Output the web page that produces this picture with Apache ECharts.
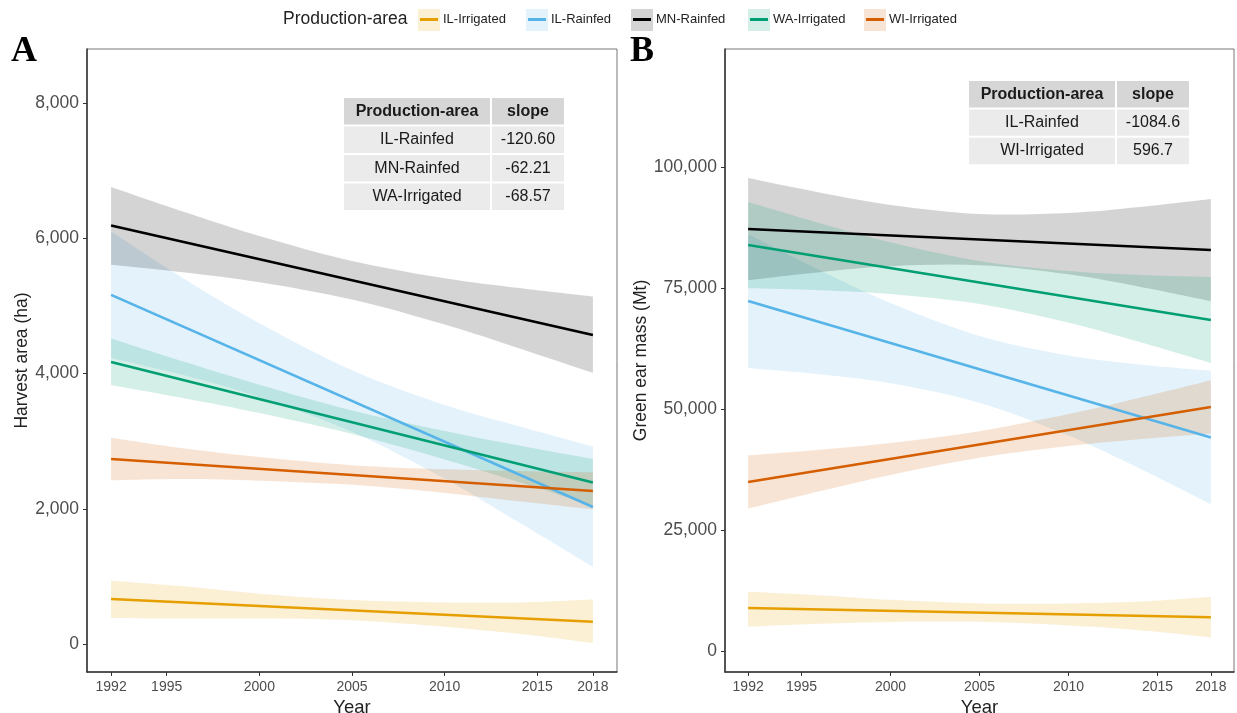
<!DOCTYPE html>
<html><head><meta charset="utf-8">
<script src="https://cdn.jsdelivr.net/npm/echarts@6/dist/echarts.min.js"></script>
<style>html,body{margin:0;padding:0;background:#fff}#c{width:1237px;height:713px}</style>
</head><body><div id="c"></div>
<script>
// ---------- data ----------
const areaNames = ['IL-Irrigated', 'IL-Rainfed', 'MN-Rainfed', 'WA-Irrigated', 'WI-Irrigated'];
const areaColors = ['#E69F00', '#56B4E9', '#000000', '#009E73', '#D55E00'];
const yearTicks = [1992, 1995, 2000, 2005, 2010, 2015, 2018];
const lineYears = [1992, 2018];
const bandYears = [1992, 1996, 2000, 2005, 2010, 2014, 2018];

// Panel A: Harvest area (ha)
const harvestTicks = [0, 2000, 4000, 6000, 8000];
const harvestILIrrigated = [666, 330];
const harvestILIrrigatedLow = [385, 380, 380, 350, 255, 150, 15];
const harvestILIrrigatedHigh = [935, 850, 745, 650, 615, 615, 660];
const harvestILRainfed = [5163, 2027];
const harvestILRainfedLow = [4230, 3970, 3650, 3140, 2445, 1800, 1140];
const harvestILRainfedHigh = [6100, 5390, 4745, 4050, 3535, 3220, 2920];
const harvestMNRainfed = [6190, 4570];
const harvestMNRainfedLow = [5610, 5495, 5350, 5095, 4725, 4375, 4010];
const harvestMNRainfedHigh = [6760, 6385, 6035, 5665, 5410, 5265, 5140];
const harvestWAIrrigated = [4172, 2390];
const harvestWAIrrigatedLow = [3830, 3630, 3415, 3105, 2730, 2395, 2045];
const harvestWAIrrigatedHigh = [4520, 4170, 3835, 3455, 3150, 2935, 2735];
const harvestWIIrrigated = [2737, 2263];
const harvestWIIrrigatedLow = [2420, 2440, 2415, 2355, 2235, 2110, 1990];
const harvestWIIrrigatedHigh = [3050, 2890, 2765, 2645, 2585, 2560, 2540];

// Panel B: Green ear mass (Mt)
const massTicks = [0, 25000, 50000, 75000, 100000];
const massILIrrigated = [8880, 6960];
const massILIrrigatedLow = [5020, 5635, 6010, 6020, 5270, 4310, 2830];
const massILIrrigatedHigh = [12250, 11535, 10570, 9820, 9830, 10210, 11220];
const massILRainfed = [72310, 44110];
const massILRainfedLow = [58500, 57210, 55350, 51310, 44510, 37690, 30300];
const massILRainfedHigh = [86100, 78730, 71910, 65110, 61070, 59210, 57900];
const massMNRainfed = [87190, 82850];
const massMNRainfedLow = [76650, 78290, 79520, 79720, 77860, 75290, 72300];
const massMNRainfedHigh = [97720, 94750, 92180, 90320, 90520, 91750, 93400];
const massWAIrrigated = [83880, 68390];
const massWAIrrigatedLow = [74980, 74560, 73770, 71685, 67820, 63830, 59500];
const massWAIrrigatedHigh = [92780, 88440, 84450, 80585, 78500, 77710, 77300];
const massWIIrrigated = [34915, 50430];
const massWIIrrigatedLow = [29415, 33010, 36390, 39920, 42350, 43750, 44930];
const massWIIrrigatedHigh = [40415, 41590, 42990, 45420, 48950, 52330, 55930];

// slope tables
const tableHeader = ['Production-area', 'slope'];
const tableAAreas = ['IL-Rainfed', 'MN-Rainfed', 'WA-Irrigated'];
const tableASlopes = ['-120.60', '-62.21', '-68.57'];
const tableBAreas = ['IL-Rainfed', 'WI-Irrigated'];
const tableBSlopes = ['-1084.6', '596.7'];

// ---------- build ----------
const panelA = [
  [harvestILIrrigated, harvestILIrrigatedLow, harvestILIrrigatedHigh],
  [harvestILRainfed, harvestILRainfedLow, harvestILRainfedHigh],
  [harvestMNRainfed, harvestMNRainfedLow, harvestMNRainfedHigh],
  [harvestWAIrrigated, harvestWAIrrigatedLow, harvestWAIrrigatedHigh],
  [harvestWIIrrigated, harvestWIIrrigatedLow, harvestWIIrrigatedHigh]
];
const panelB = [
  [massILIrrigated, massILIrrigatedLow, massILIrrigatedHigh],
  [massILRainfed, massILRainfedLow, massILRainfedHigh],
  [massMNRainfed, massMNRainfedLow, massMNRainfedHigh],
  [massWAIrrigated, massWAIrrigatedLow, massWAIrrigatedHigh],
  [massWIIrrigated, massWIIrrigatedLow, massWIIrrigatedHigh]
];

// smooth (Catmull-Rom) path through already-projected pixel points
function curveThrough(pts, start) {
  let d = start ? 'M' + pts[0][0] + ',' + pts[0][1] : 'L' + pts[0][0] + ',' + pts[0][1];
  for (let i = 0; i < pts.length - 1; i++) {
    const p0 = pts[Math.max(i - 1, 0)], p1 = pts[i], p2 = pts[i + 1], p3 = pts[Math.min(i + 2, pts.length - 1)];
    const c1 = [p1[0] + (p2[0] - p0[0]) / 6, p1[1] + (p2[1] - p0[1]) / 6];
    const c2 = [p2[0] - (p3[0] - p1[0]) / 6, p2[1] - (p3[1] - p1[1]) / 6];
    d += 'C' + c1[0] + ',' + c1[1] + ' ' + c2[0] + ',' + c2[1] + ' ' + p2[0] + ',' + p2[1];
  }
  return d;
}
function bandSeries(name, low, high, color, idx) {
  const data = bandYears.map((y, i) => [y, low[i], high[i]]);
  return {
    type: 'custom', name: name + ' band', xAxisIndex: idx, yAxisIndex: idx, silent: true, z: 1,
    data: data, encode: { x: 0, y: [1, 2] },
    renderItem: function (params, api) {
      if (params.dataIndex !== 0) return null;
      const up = [], dn = [];
      for (let i = 0; i < data.length; i++) {
        up.push(api.coord([data[i][0], data[i][2]]));
        dn.push(api.coord([data[i][0], data[i][1]]));
      }
      const path = curveThrough(up, true) + curveThrough(dn.reverse(), false) + 'Z';
      return { type: 'path', shape: { pathData: path },
        style: { fill: color, opacity: 0.17, stroke: null } };
    }
  };
}
function lineSeries(name, vals, color, idx) {
  return {
    type: 'line', name: name, xAxisIndex: idx, yAxisIndex: idx, silent: true, z: 3,
    data: lineYears.map((y, i) => [y, vals[i]]), showSymbol: false, symbol: 'none',
    lineStyle: { color: color, width: 2.6 }, itemStyle: { color: color }
  };
}
const series = [];
[panelA, panelB].forEach((panel, idx) => {
  panel.forEach((p, i) => series.push(bandSeries(areaNames[i], p[1], p[2], areaColors[i], idx)));
});
[panelA, panelB].forEach((panel, idx) => {
  panel.forEach((p, i) => series.push(lineSeries(areaNames[i], p[0], areaColors[i], idx)));
});

const SANS = '"Liberation Sans", Arial, Helvetica, sans-serif';
const fmtNum = v => Number(v).toLocaleString('en-US');
function xAxisCfg(idx) {
  return {
    type: 'value', gridIndex: idx, min: 1990.7, max: 2019.3, splitLine: { show: false },
    axisLine: { show: true, onZero: false, lineStyle: { color: '#333', width: 1.5 } },
    axisTick: { show: true, customValues: yearTicks, length: 4, lineStyle: { color: '#333' } },
    axisLabel: { customValues: yearTicks, formatter: v => String(v), fontSize: 14, color: '#4d4d4d', margin: 8, fontFamily: SANS },
    name: 'Year', nameLocation: 'middle', nameGap: 21,
    nameTextStyle: { fontSize: 18.5, color: '#222', fontFamily: SANS }
  };
}
function yAxisCfg(idx, min, max, ticks, name, gap) {
  return {
    type: 'value', gridIndex: idx, min: min, max: max, splitLine: { show: false },
    axisLine: { show: true, onZero: false, lineStyle: { color: '#333', width: 1.5 } },
    axisTick: { show: true, customValues: ticks, length: 4, lineStyle: { color: '#333' } },
    axisLabel: { customValues: ticks, formatter: fmtNum, fontSize: 17.5, color: '#4d4d4d', margin: 8, fontFamily: SANS },
    name: name, nameLocation: 'middle', nameGap: gap,
    nameTextStyle: { fontSize: 17.5, color: '#222', fontFamily: SANS }
  };
}

// legend: one component per item, placed at fixed spots
const keyLefts = [418, 526, 631, 748, 864];
const legends = areaNames.map((n, i) => ({
  data: [n], left: keyLefts[i] + 2, top: 13, padding: 0, itemWidth: 18, itemHeight: 3,
  icon: 'rect', selectedMode: false, z: 10,
  textStyle: { fontSize: 13, color: '#222', fontFamily: SANS }
}));

// graphics: legend key backgrounds, panel letters, slope tables
const graphics = [];
areaNames.forEach((n, i) => graphics.push({
  type: 'rect', left: keyLefts[i], top: 9, z: 0,
  shape: { width: 22, height: 22 }, style: { fill: areaColors[i], opacity: 0.17 }
}));
graphics.push({ type: 'text', x: 24, y: 52, z: 10, style: { text: 'A', align: 'center', verticalAlign: 'middle', font: 'bold 36px "Liberation Serif", "Times New Roman", serif', fill: '#000' } });
graphics.push({ type: 'text', x: 642, y: 52, z: 10, style: { text: 'B', align: 'center', verticalAlign: 'middle', font: 'bold 36px "Liberation Serif", "Times New Roman", serif', fill: '#000' } });

function addTable(x0, y0, colW, rowH, areas, slopes) {
  const rows = [tableHeader].concat(areas.map((a, i) => [a, slopes[i]]));
  rows.forEach((r, ri) => {
    let x = x0;
    r.forEach((cell, ci) => {
      const y = y0 + ri * rowH;
      graphics.push({ type: 'rect', x: x + 1, y: y + 1, z: 5, shape: { width: colW[ci] - 2, height: rowH - 2 },
        style: { fill: ri === 0 ? '#d6d6d6' : '#ebebeb' } });
      graphics.push({ type: 'text', x: x + colW[ci] / 2, y: y + rowH / 2, z: 6,
        style: { text: cell, align: 'center', verticalAlign: 'middle',
          font: (ri === 0 ? 'bold ' : '') + '16px ' + SANS, fill: '#1a1a1a' } });
      x += colW[ci];
    });
  });
}
addTable(343, 97, [148, 74], 28.5, tableAAreas, tableASlopes);
addTable(968, 80, [148, 74], 28.4, tableBAreas, tableBSlopes);

const chart = echarts.init(document.getElementById('c'), null, { renderer: 'canvas' });
chart.setOption({
  animation: false,
  backgroundColor: '#fff',
  title: { text: 'Production-area', left: 283, top: 10, padding: 0,
    textStyle: { fontSize: 17.5, fontWeight: 'normal', color: '#222', fontFamily: SANS } },
  legend: legends,
  grid: [
    { left: 87, right: 620, top: 49, bottom: 41, show: true, borderColor: '#777', borderWidth: 1,
      backgroundColor: 'transparent', containLabel: false, outerBoundsMode: 'none' },
    { left: 725, right: 3, top: 49, bottom: 41, show: true, borderColor: '#777', borderWidth: 1,
      backgroundColor: 'transparent', containLabel: false, outerBoundsMode: 'none' }
  ],
  xAxis: [xAxisCfg(0), xAxisCfg(1)],
  yAxis: [
    yAxisCfg(0, -414, 8800, harvestTicks, 'Harvest area (ha)', 56),
    yAxisCfg(1, -4340, 124400, massTicks, 'Green ear mass (Mt)', 72)
  ],
  graphic: graphics,
  series: series
});
</script>
</body></html>
